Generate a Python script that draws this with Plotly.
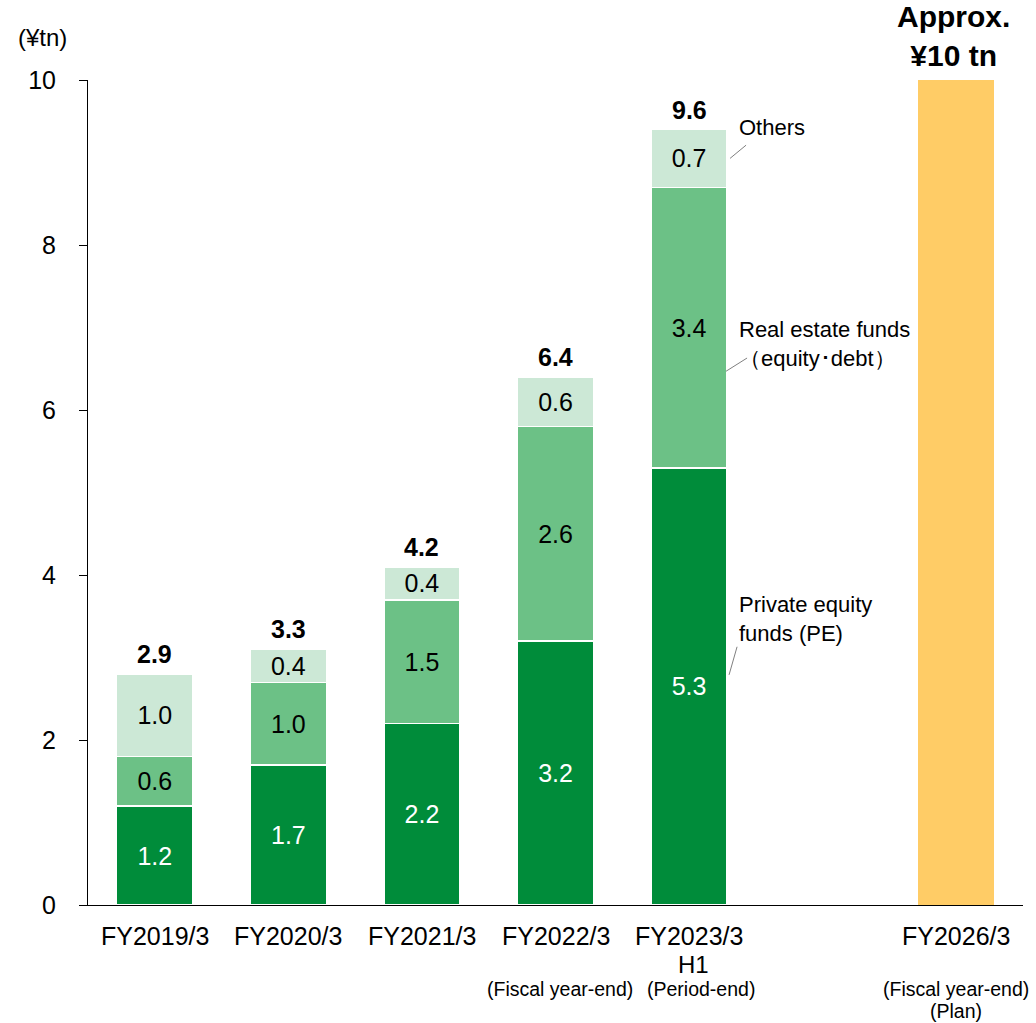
import plotly.graph_objects as go

# ---------------- data ----------------
categories = ["FY2019/3", "FY2020/3", "FY2021/3", "FY2022/3", "FY2023/3 H1", "gap", "FY2026/3"]
actual_cats = ["FY2019/3", "FY2020/3", "FY2021/3", "FY2022/3", "FY2023/3 H1"]
pe_values = [1.2, 1.7, 2.2, 3.2, 5.3]
real_estate_values = [0.6, 1.0, 1.5, 2.6, 3.4]
others_values = [1.0, 0.4, 0.4, 0.6, 0.7]
total_labels = ["2.9", "3.3", "4.2", "6.4", "9.6"]
plan_cat = "FY2026/3"
plan_value = [10]
plan_label = "Approx.<br>¥10 tn"

main_labels = {"FY2019/3": "FY2019/3", "FY2020/3": "FY2020/3", "FY2021/3": "FY2021/3",
               "FY2022/3": "FY2022/3", "FY2023/3 H1": "FY2023/3", "FY2026/3": "FY2026/3"}
y_ticks = [0, 2, 4, 6, 8, 10]

FONT = "Liberation Sans, Arial, sans-serif"
C_PE = "#008C3A"
C_RE = "#6CC186"
C_OT = "#CCE8D6"
C_PLAN = "#FFCC66"

fig = go.Figure()

def seg(name, vals, color, tcolor):
    fig.add_trace(go.Bar(
        x=actual_cats, y=vals, name=name, marker=dict(color=color, line=dict(color="white", width=1.5)),
        text=[f"{v:.1f}" for v in vals], texttemplate="%{text}", textposition="inside",
        insidetextanchor="middle", constraintext="none",
        textfont=dict(family=FONT, size=25, color=tcolor), width=0.57, hoverinfo="skip"))

seg("Private equity funds (PE)", pe_values, C_PE, "white")
seg("Real estate funds", real_estate_values, C_RE, "black")
seg("Others", others_values, C_OT, "black")
fig.add_trace(go.Bar(x=[plan_cat], y=plan_value, marker=dict(color=C_PLAN, line=dict(width=0)),
                     width=0.57, hoverinfo="skip"))

ann = []
# totals
for c, a, b, o, t in zip(actual_cats, pe_values, real_estate_values, others_values, total_labels):
    ann.append(dict(x=c, y=a + b + o, xref="x", yref="y", text=f"<b>{t}</b>", showarrow=False,
                    yanchor="bottom", yshift=4, font=dict(family=FONT, size=25, color="black")))
# plan label
ann.append(dict(x=plan_cat, y=1, xref="x", yref="paper", text=f"<b>{plan_label}</b>", showarrow=False,
                yanchor="middle", yshift=44, xshift=-3, font=dict(family=FONT, size=30, color="black")))
# category labels
for c, lab in main_labels.items():
    ann.append(dict(x=c, y=0, xref="x", yref="paper", text=lab, showarrow=False, yanchor="middle",
                    yshift=-31, font=dict(family=FONT, size=25, color="black")))
ann.append(dict(x="FY2023/3 H1", y=0, xref="x", yref="paper", text="H1", showarrow=False, yanchor="middle",
                yshift=-59, xshift=4, font=dict(family=FONT, size=24, color="black")))
subs = [("FY2022/3", "(Fiscal year-end)", -84, 4), ("FY2023/3 H1", "(Period-end)", -84, 12),
        ("FY2026/3", "(Fiscal year-end)", -84, 0), ("FY2026/3", "(Plan)", -106, 0)]
for c, t, ys, xs in subs:
    ann.append(dict(x=c, y=0, xref="x", yref="paper", text=t, showarrow=False, yanchor="middle",
                    yshift=ys, xshift=xs, font=dict(family=FONT, size=19.5, color="black")))
# unit
ann.append(dict(x=0, y=1, xref="paper", yref="paper", text="(¥tn)", showarrow=False, xanchor="center",
                yanchor="middle", xshift=-46, yshift=43, font=dict(family=FONT, size=24, color="black")))
# series labels
last = "FY2023/3 H1"
series_labels = [("Others", 9.42), ("Real estate funds<br>（equity･debt）", 6.8), ("Private equity<br>funds (PE)", 3.47)]
for t, yv in series_labels:
    ann.append(dict(x=last, y=yv, xref="x", yref="y", text=t, showarrow=False, xanchor="left", align="left",
                    yanchor="middle", xshift=48, font=dict(family=FONT, size=22, color="black")))

idx = categories.index(last)
leaders = [((41, 9.05), (57, 9.21)), ((37, 6.47), (58, 6.63)), ((40, 2.79), (48, 3.13))]
shapes = []
for (x0, y0), (x1, y1) in leaders:
    shapes.append(dict(type="line", xref="x", yref="y", xsizemode="pixel", xanchor=idx,
                       x0=x0, x1=x1, y0=y0, y1=y1, line=dict(color="#808080", width=1)))

fig.update_layout(
    width=1036, height=1023, barmode="stack", showlegend=False,
    margin=dict(l=88, r=13, t=80, b=118), plot_bgcolor="white", paper_bgcolor="white",
    annotations=ann, shapes=shapes, font=dict(family=FONT),
    xaxis=dict(type="category", categoryorder="array", categoryarray=categories, range=[-0.5, 6.5],
               showticklabels=False, ticks="", showline=True, linecolor="black", linewidth=1,
               showgrid=False, zeroline=False, fixedrange=True),
    yaxis=dict(range=[0, 10], tickvals=y_ticks, ticks="outside", ticklen=8, tickcolor="black",
               showline=True, linecolor="black", linewidth=1, showgrid=False, zeroline=False,
               tickfont=dict(family=FONT, size=25, color="black"), ticklabelstandoff=18),
)

fig.write_html("out.html")
